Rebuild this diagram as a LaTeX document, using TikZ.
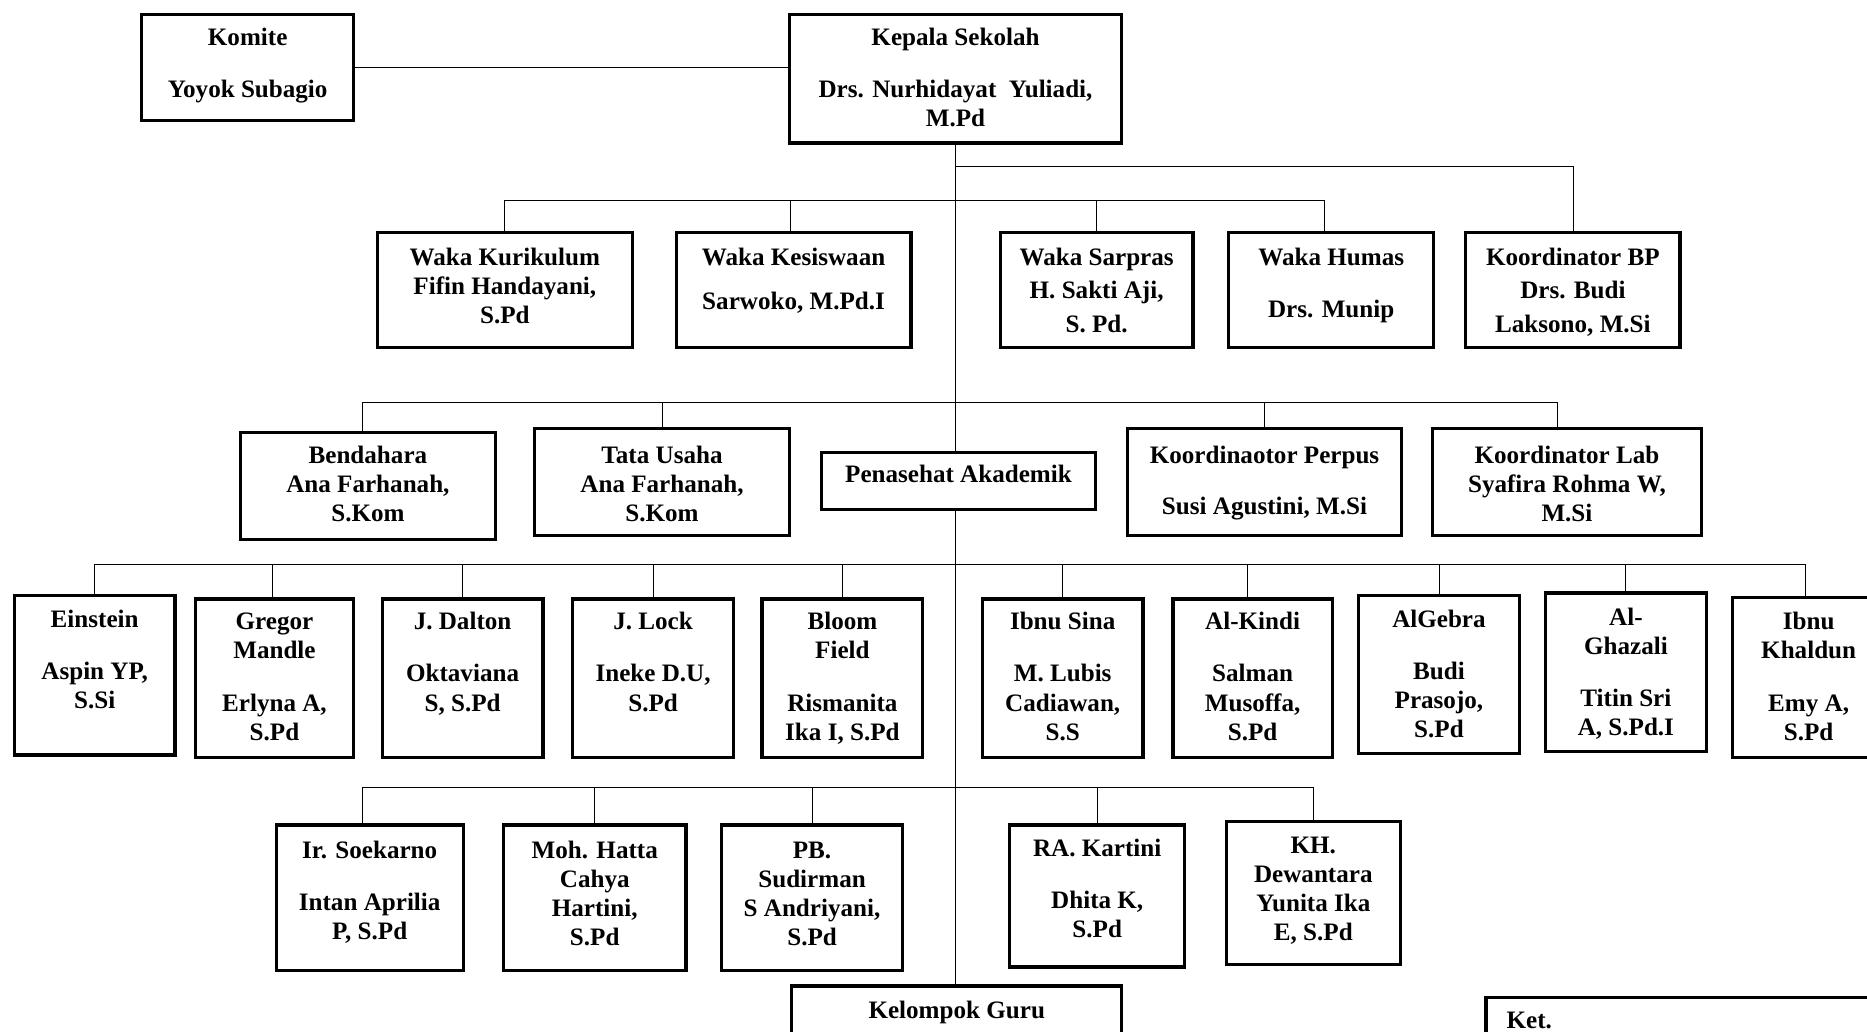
\documentclass[tikz,border=0pt]{standalone}
\usepackage{fontspec}
\setmainfont{Liberation Serif}
\usetikzlibrary{fit,calc,backgrounds}
% name, x1, y1, x2, y2, y of first text line, text
\newcommand\orgbox[7]{%
  \node[box, fit={(#2,#3) (#4,#5)}] (#1) {};
  \node[txt] (#1t) at ({(#2+#4)/2},{#6+7}) {\parbox[t]{7cm}{\centering #7}};
}
\newcommand\gp{\\[11pt]}
\begin{document}
\begin{tikzpicture}[x=0.02cm,y=-0.02cm,
  box/.style={draw, line width=1.6pt, fill=white, inner sep=0pt, rectangle},
  txt/.style={inner sep=0pt, anchor=base, font=\fontsize{12}{13.9}\selectfont\bfseries},
  conn/.style={line width=1.6pt}]
\clip (0,0) rectangle (1568,866);

% top
\orgbox{komite}{119}{12}{297}{101}{31}{Komite\gp Yoyok Subagio}
\orgbox{kepala}{663}{12}{942}{120}{31}{Kepala Sekolah\gp Drs. Nurhidayat\ \ Yuliadi,\\ M.Pd}

% row 1
\orgbox{wk}{317}{195}{531}{292}{216}{Waka Kurikulum\\ Fifin Handayani,\\ S.Pd}
\orgbox{wks}{568}{195}{765}{292}{216}{Waka Kesiswaan\\[7pt] Sarwoko, M.Pd.I}
\orgbox{ws}{840}{195}{1002}{292}{216}{Waka Sarpras\\[2pt] H. Sakti Aji,\\[2pt] S. Pd.}
\orgbox{wh}{1032}{195}{1204}{292}{216}{Waka Humas\gp Drs. Munip}
\orgbox{kbp}{1231}{195}{1411}{292}{216}{Koordinator BP\\[2pt] Drs. Budi\\[2pt] Laksono, M.Si}

% row 2
\orgbox{bend}{202}{363}{416}{453}{382}{Bendahara\\ Ana Farhanah,\\ S.Kom}
\orgbox{tu}{449}{360}{663}{450}{382}{Tata Usaha\\ Ana Farhanah,\\ S.Kom}
\orgbox{pa}{690}{380}{920}{428}{398}{Penasehat Akademik}
\orgbox{perp}{947}{360}{1177}{450}{382}{Koordinaotor Perpus\\[10.5pt] Susi Agustini, M.Si}
\orgbox{lab}{1203}{360}{1429}{450}{382}{Koordinator Lab\\ Syafira Rohma W,\\ M.Si}

% row 3
\orgbox{ein}{12}{500}{147}{634}{520}{Einstein\gp Aspin YP,\\ S.Si}
\orgbox{greg}{164}{503}{297}{636}{522}{Gregor\\ Mandle\gp Erlyna A,\\ S.Pd}
\orgbox{dal}{321}{503}{456}{636}{522}{J. Dalton\gp Oktaviana\\ S, S.Pd}
\orgbox{lock}{481}{503}{616}{636}{522}{J. Lock\gp Ineke D.U,\\ S.Pd}
\orgbox{bloom}{640}{503}{775}{636}{522}{Bloom\\ Field\gp Rismanita\\ Ika I, S.Pd}
\orgbox{sina}{825}{503}{960}{636}{522}{Ibnu Sina\gp M. Lubis\\ Cadiawan,\\ S.S}
\orgbox{kindi}{985}{503}{1119}{636}{522}{Al-Kindi\gp Salman\\ Musoffa,\\ S.Pd}
\orgbox{alg}{1141}{500}{1276}{633}{520}{AlGebra\gp Budi\\ Prasojo,\\ S.Pd}
\orgbox{ghaz}{1298}{498}{1433}{631}{518}{Al-\\ Ghazali\gp Titin Sri\\ A, S.Pd.I}
\orgbox{khal}{1455}{502}{1583}{636}{522}{Ibnu\\ Khaldun\gp Emy A,\\ S.Pd}

% row 4
\orgbox{soek}{232}{693}{389}{815}{714}{Ir. Soekarno\gp Intan Aprilia\\ P, S.Pd}
\orgbox{hatta}{423}{693}{576}{815}{714}{Moh. Hatta\\ Cahya\\ Hartini,\\ S.Pd}
\orgbox{sud}{606}{693}{758}{815}{714}{PB.\\ Sudirman\\ S Andriyani,\\ S.Pd}
\orgbox{kart}{848}{693}{995}{812}{712}{RA. Kartini\gp Dhita K,\\ S.Pd}
\orgbox{dew}{1030}{690}{1176}{810}{710}{KH.\\ Dewantara\\ Yunita Ika\\ E, S.Pd}

% bottom
\orgbox{kg}{665}{828}{942}{900}{848}{Kelompok Guru}
\node[box, fit={(1248,838) (1600,900)}] (ket) {};
\node[txt, anchor=base west] (kett) at (1265,864) {Ket.};

% bus coordinates
\coordinate (b0) at (802,140);
\coordinate (b1) at (802,168);
\coordinate (b2) at (802,338);
\coordinate (b3) at (802,474);
\coordinate (b4) at (802,661);

\begin{scope}[on background layer, conn]
  \fill[white] (0,0) rectangle (1568,866);
  \draw (komite.east) -- (komite.east -| kepala.west);
  \draw (kepala.south) -- (kepala.south |- kg.north);
  \draw (kepala.south |- b0) -| (kbp.north);
  \foreach \n/\d in {wk/0,wks/-3,ws/0,wh/-6} \draw ([xshift=\d*0.02cm]\n.north) -- ([xshift=\d*0.02cm]\n.north |- b1);
  \draw (wk.north |- b1) -- ([xshift=-6*0.02cm]wh.north |- b1);
  \foreach \n/\d in {bend/-5,tu/0,perp/0,lab/-8} \draw ([xshift=\d*0.02cm]\n.north) -- ([xshift=\d*0.02cm]\n.north |- b2);
  \draw ([xshift=-5*0.02cm]bend.north |- b2) -- ([xshift=-8*0.02cm]lab.north |- b2);
  \foreach \n/\d in {ein/0,greg/-2,dal/0,lock/0,bloom/0,sina/0,kindi/-4,alg/0,ghaz/0,khal/-3} \draw ([xshift=\d*0.02cm]\n.north) -- ([xshift=\d*0.02cm]\n.north |- b3);
  \draw (ein.north |- b3) -- ([xshift=-3*0.02cm]khal.north |- b3);
  \foreach \n/\d in {soek/-6,hatta/0,sud/0,kart/0,dew/0} \draw ([xshift=\d*0.02cm]\n.north) -- ([xshift=\d*0.02cm]\n.north |- b4);
  \draw ([xshift=-6*0.02cm]soek.north |- b4) -- (dew.north |- b4);
\end{scope}
\end{tikzpicture}
\end{document}
